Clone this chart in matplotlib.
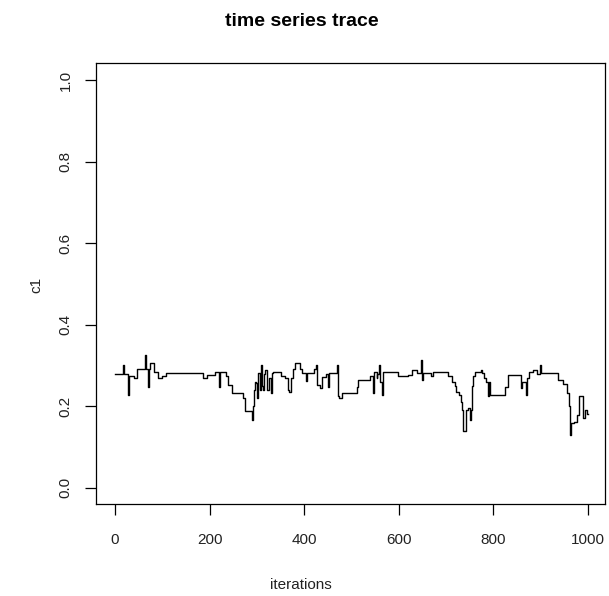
import numpy as np
import matplotlib
matplotlib.use('Agg')
import matplotlib.pyplot as plt

plt.rcParams['font.family'] = ['Liberation Sans', 'DejaVu Sans']

# MCMC trace of c1: iteration where the chain moves, and the value it moves to
iters = [1, 18, 20, 28, 30, 40, 46, 60, 63, 65, 69, 71, 74, 82, 92, 99, 109,
         187, 194, 211, 220, 222, 235, 240, 247, 271, 275, 289, 292, 294, 296,
         298, 300, 303, 306, 309, 311, 314, 316, 318, 321, 324, 326, 329, 331,
         335, 352, 360, 366, 369, 372, 376, 381, 391, 395, 403, 406, 420, 425,
         428, 433, 437, 446, 450, 452, 469, 472, 474, 480, 511, 514, 539, 545,
         547, 553, 555, 559, 561, 564, 566, 598, 619, 628, 638, 648, 650, 652,
         669, 672, 705, 712, 718, 722, 727, 731, 734, 736, 742, 746, 750, 752,
         754, 757, 761, 773, 775, 780, 785, 788, 790, 793, 825, 831, 859, 861,
         870, 872, 876, 884, 893, 898, 900, 937, 948, 955, 960, 962, 965, 970,
         976, 980, 990, 993, 997, 1000]
c1 = [0.279, 0.300, 0.279, 0.228, 0.273, 0.270, 0.291, 0.290, 0.326, 0.290,
      0.248, 0.290, 0.307, 0.283, 0.269, 0.275, 0.281, 0.269, 0.277, 0.285,
      0.248, 0.285, 0.273, 0.252, 0.232, 0.220, 0.187, 0.167, 0.200, 0.240,
      0.260, 0.256, 0.220, 0.281, 0.240, 0.301, 0.250, 0.240, 0.280, 0.288,
      0.240, 0.240, 0.270, 0.232, 0.281, 0.283, 0.273, 0.268, 0.240, 0.235,
      0.270, 0.290, 0.306, 0.290, 0.281, 0.262, 0.281, 0.290, 0.301, 0.252,
      0.245, 0.272, 0.279, 0.248, 0.281, 0.300, 0.224, 0.220, 0.232, 0.248,
      0.265, 0.275, 0.232, 0.283, 0.270, 0.280, 0.301, 0.260, 0.228, 0.283,
      0.273, 0.277, 0.289, 0.281, 0.314, 0.265, 0.281, 0.273, 0.283, 0.273,
      0.260, 0.250, 0.235, 0.228, 0.210, 0.190, 0.138, 0.190, 0.195, 0.166,
      0.190, 0.250, 0.275, 0.283, 0.289, 0.281, 0.270, 0.260, 0.224, 0.260,
      0.228, 0.248, 0.277, 0.245, 0.260, 0.228, 0.270, 0.283, 0.289, 0.280,
      0.301, 0.281, 0.265, 0.255, 0.232, 0.200, 0.130, 0.159, 0.160, 0.179,
      0.225, 0.170, 0.190, 0.180, 0.180]

xticks = [0, 200, 400, 600, 800, 1000]
yticks = [0.0, 0.2, 0.4, 0.6, 0.8, 1.0]
ytick_labels = ['0.0', '0.2', '0.4', '0.6', '0.8', '1.0']

W, H = 609, 596
fig = plt.figure(figsize=(W / 100, H / 100), dpi=100)
ax = fig.add_axes([96 / W, (H - 504) / H, (605 - 96) / W, (504 - 63) / H])

ax.plot(iters, c1, color='black', lw=1.0, drawstyle='steps-post')

ax.set_xlim(-40, 1036)
ax.set_ylim(-0.04, 1.042)
ax.set_xticks(xticks)
ax.set_yticks(yticks)
ax.set_yticklabels(ytick_labels, rotation=90, va='center')
ax.tick_params(axis='both', direction='out', length=8, width=0.9,
               labelsize=11, labelcolor='#222222')
ax.tick_params(axis='x', pad=13)
ax.tick_params(axis='y', pad=9)
for s in ax.spines.values():
    s.set_linewidth(0.9)

fig.text(302 / W, 1 - 21 / H, 'time series trace', ha='center', va='center',
         fontsize=14, fontweight='bold')
fig.text(301 / W, 1 - 585 / H, 'iterations', ha='center', va='center',
         fontsize=11, color='#222222')
fig.text(36 / W, 1 - 285 / H, 'c1', ha='center', va='center', rotation=90,
         fontsize=11, color='#222222')

fig.savefig('out.png', dpi=100)
